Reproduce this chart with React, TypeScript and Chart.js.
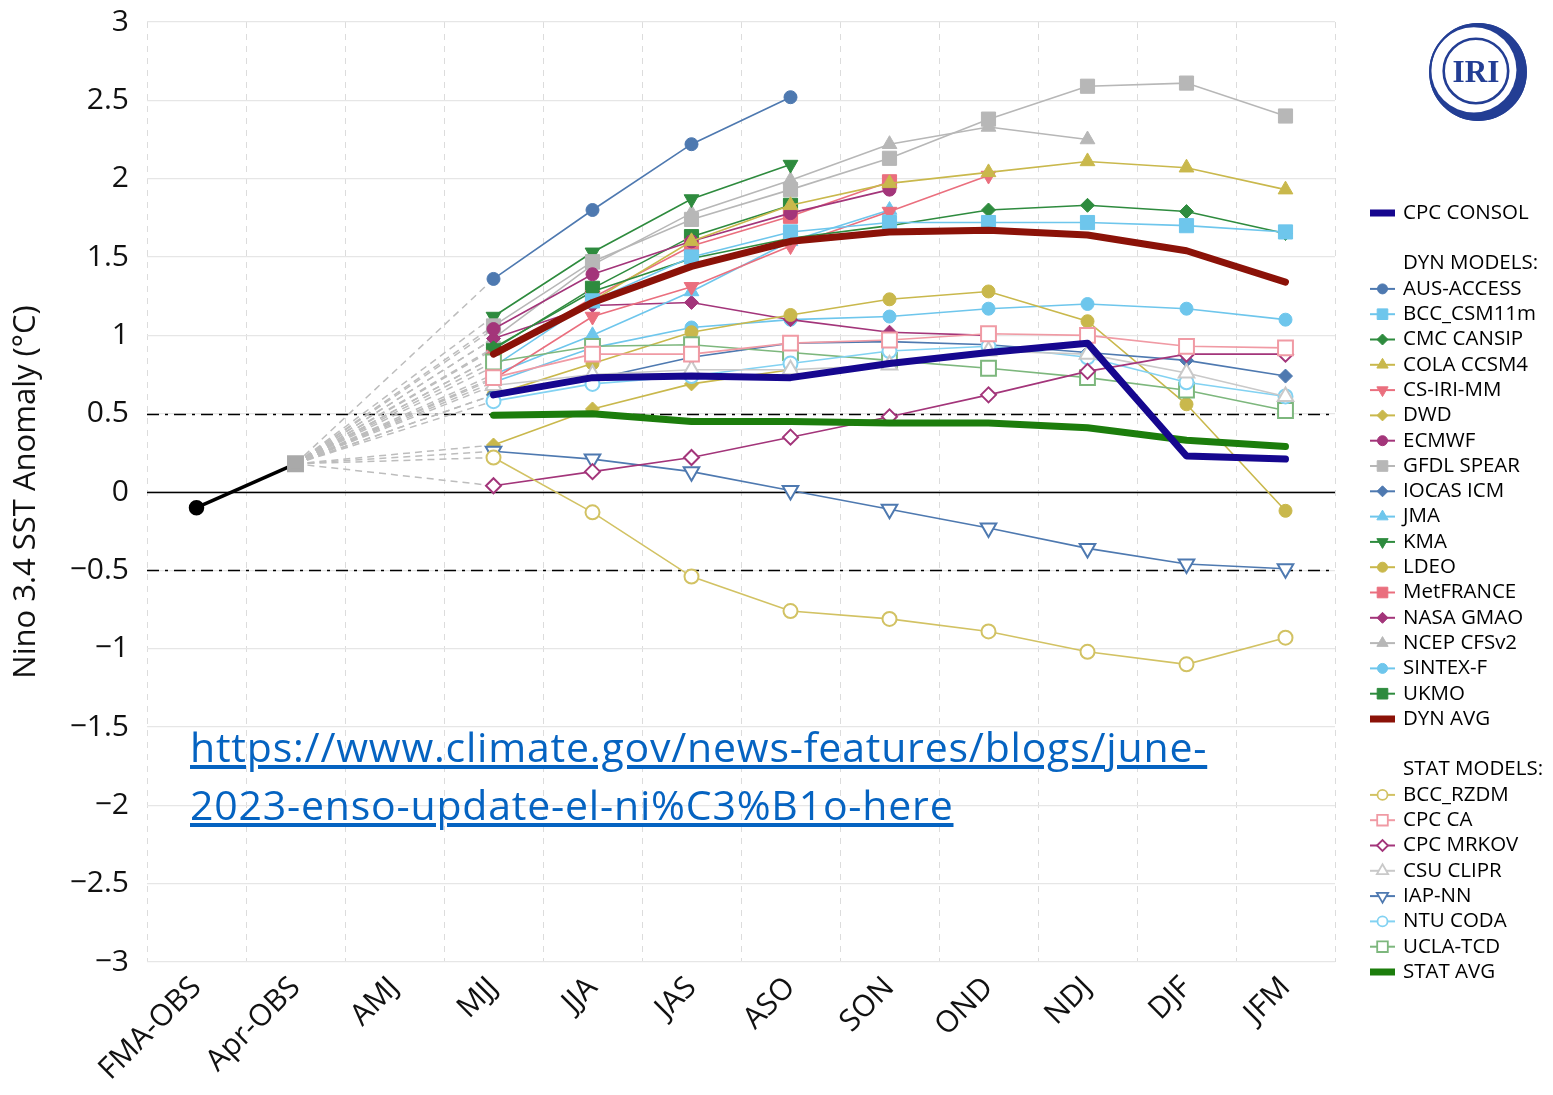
import React, { useEffect, useRef } from 'react';
import { Chart, registerables } from 'chart.js';
import { drawPoint } from 'chart.js/helpers';

Chart.register(...registerables);

// ---------------- DATA ----------------
const CATEGORIES = ['FMA-OBS', 'Apr-OBS', 'AMJ', 'MJJ', 'JJA', 'JAS', 'ASO', 'SON', 'OND', 'NDJ', 'DJF', 'JFM'];
const Y_TICKS_MIN = -3;
const Y_TICKS_MAX = 3;
const Y_STEP = 0.5;
const THRESHOLDS = [0.5, -0.5];
const ZERO_LINE = 0;

const OBS_FMA = -0.1;
const OBS_APR = 0.18;

// forecast values for MJJ, JJA, JAS, ASO, SON, OND, NDJ, DJF, JFM
const CPC_CONSOL = [0.62, 0.73, 0.74, 0.73, 0.82, 0.89, 0.95, 0.23, 0.21];

const AUS_ACCESS = [1.36, 1.8, 2.22, 2.52, null, null, null, null, null];
const BCC_CSM11M = [0.8, 1.22, 1.5, 1.66, 1.72, 1.72, 1.72, 1.7, 1.66];
const CMC_CANSIP = [0.92, 1.28, 1.49, 1.62, 1.7, 1.8, 1.83, 1.79, 1.65];
const COLA_CCSM4 = [0.86, 1.22, 1.6, 1.83, 1.97, 2.04, 2.11, 2.07, 1.93];
const CS_IRI_MM = [0.72, 1.12, 1.31, 1.57, 1.79, 2.02, null, null, null];
const DWD = [0.3, 0.53, 0.69, 0.78, null, null, null, null, null];
const ECMWF = [1.04, 1.39, 1.6, 1.78, 1.93, null, null, null, null];
const GFDL_SPEAR = [1.06, 1.47, 1.74, 1.93, 2.13, 2.38, 2.59, 2.61, 2.4];
const IOCAS_ICM = [0.62, 0.72, 0.86, 0.95, 0.96, 0.94, 0.89, 0.84, 0.74];
const JMA = [0.75, 1.0, 1.28, 1.6, 1.8, null, null, null, null];
const KMA = [1.12, 1.53, 1.87, 2.09, null, null, null, null, null];
const LDEO = [0.62, 0.82, 1.02, 1.13, 1.23, 1.28, 1.09, 0.56, -0.12];
const MET_FRANCE = [0.86, 1.24, 1.57, 1.76, 1.98, null, null, null, null];
const NASA_GMAO = [0.98, 1.19, 1.21, 1.1, 1.02, 1.0, null, null, null];
const NCEP_CFSV2 = [0.98, 1.45, 1.78, 1.99, 2.22, 2.33, 2.25, null, null];
const SINTEX_F = [0.7, 0.92, 1.05, 1.1, 1.12, 1.17, 1.2, 1.17, 1.1];
const UKMO = [0.91, 1.3, 1.63, 1.83, null, null, null, null, null];
const DYN_AVG = [0.88, 1.21, 1.44, 1.6, 1.66, 1.67, 1.64, 1.54, 1.34];

const BCC_RZDM = [0.22, -0.13, -0.54, -0.76, -0.81, -0.89, -1.02, -1.1, -0.93];
const CPC_CA = [0.73, 0.88, 0.88, 0.95, 0.97, 1.01, 1.0, 0.93, 0.92];
const CPC_MRKOV = [0.04, 0.13, 0.22, 0.35, 0.48, 0.62, 0.77, 0.88, 0.88];
const CSU_CLIPR = [0.68, 0.75, 0.78, 0.78, 0.81, 0.9, 0.88, 0.76, 0.61];
const IAP_NN = [0.26, 0.21, 0.13, 0.01, -0.11, -0.23, -0.36, -0.46, -0.49];
const NTU_CODA = [0.58, 0.69, 0.74, 0.82, 0.9, 0.93, 0.86, 0.7, 0.61];
const UCLA_TCD = [0.83, 0.93, 0.94, 0.89, 0.84, 0.79, 0.73, 0.65, 0.52];
const STAT_AVG = [0.49, 0.5, 0.45, 0.45, 0.44, 0.44, 0.41, 0.33, 0.29];

const LINK = 'https://www.climate.gov/news-features/blogs/june-2023-enso-update-el-ni%C3%B1o-here';
const LINK_LINE1 = 'https://www.climate.gov/news-features/blogs/june-';
const LINK_LINE2 = '2023-enso-update-el-ni%C3%B1o-here';

// ---------------- STYLES ----------------
type Marker = { style: string; rot?: number; r: number; lr: number; hollow?: boolean };
const CIRCLE: Marker = { style: 'circle', r: 6.5, lr: 5 };
const SQUARE: Marker = { style: 'rect', r: 10, lr: 7.5 };
const DIAMOND: Marker = { style: 'rectRot', r: 7, lr: 5.5 };
const TRI_UP: Marker = { style: 'triangle', r: 8.5, lr: 6.5 };
const TRI_DOWN: Marker = { style: 'triangle', rot: 180, r: 8.5, lr: 6.5 };
const hollow = (m: Marker): Marker => ({ ...m, hollow: true, r: m.r + 0.5 });

type Series = { name: string; values: (number | null)[]; color: string; marker?: Marker; thick?: boolean };

const BLUE = '#4e79b0';
const LBLUE = '#6ec6ec';
const GREEN = '#2e8b3e';
const OLIVE = '#c9b84c';
const PINK = '#ea6f7e';
const PURPLE = '#a3357a';
const GRAY = '#b7b7b7';

const CONSOL: Series = { name: 'CPC CONSOL', values: CPC_CONSOL, color: '#16078f', thick: true };
const DYN: Series[] = [
  { name: 'AUS-ACCESS', values: AUS_ACCESS, color: BLUE, marker: CIRCLE },
  { name: 'BCC_CSM11m', values: BCC_CSM11M, color: LBLUE, marker: SQUARE },
  { name: 'CMC CANSIP', values: CMC_CANSIP, color: GREEN, marker: DIAMOND },
  { name: 'COLA CCSM4', values: COLA_CCSM4, color: OLIVE, marker: TRI_UP },
  { name: 'CS-IRI-MM', values: CS_IRI_MM, color: PINK, marker: TRI_DOWN },
  { name: 'DWD', values: DWD, color: OLIVE, marker: DIAMOND },
  { name: 'ECMWF', values: ECMWF, color: PURPLE, marker: CIRCLE },
  { name: 'GFDL SPEAR', values: GFDL_SPEAR, color: GRAY, marker: SQUARE },
  { name: 'IOCAS ICM', values: IOCAS_ICM, color: BLUE, marker: DIAMOND },
  { name: 'JMA', values: JMA, color: LBLUE, marker: TRI_UP },
  { name: 'KMA', values: KMA, color: GREEN, marker: TRI_DOWN },
  { name: 'LDEO', values: LDEO, color: OLIVE, marker: CIRCLE },
  { name: 'MetFRANCE', values: MET_FRANCE, color: PINK, marker: SQUARE },
  { name: 'NASA GMAO', values: NASA_GMAO, color: PURPLE, marker: DIAMOND },
  { name: 'NCEP CFSv2', values: NCEP_CFSV2, color: GRAY, marker: TRI_UP },
  { name: 'SINTEX-F', values: SINTEX_F, color: LBLUE, marker: CIRCLE },
  { name: 'UKMO', values: UKMO, color: GREEN, marker: SQUARE },
];
const DYNAVG: Series = { name: 'DYN AVG', values: DYN_AVG, color: '#8b1208', thick: true };
const STAT: Series[] = [
  { name: 'BCC_RZDM', values: BCC_RZDM, color: '#d2c263', marker: hollow(CIRCLE) },
  { name: 'CPC CA', values: CPC_CA, color: '#f09aa4', marker: hollow(SQUARE) },
  { name: 'CPC MRKOV', values: CPC_MRKOV, color: PURPLE, marker: hollow(DIAMOND) },
  { name: 'CSU CLIPR', values: CSU_CLIPR, color: '#c9c9c9', marker: hollow(TRI_UP) },
  { name: 'IAP-NN', values: IAP_NN, color: BLUE, marker: hollow(TRI_DOWN) },
  { name: 'NTU CODA', values: NTU_CODA, color: '#82d2f2', marker: hollow(CIRCLE) },
  { name: 'UCLA-TCD', values: UCLA_TCD, color: '#7db77d', marker: hollow(SQUARE) },
];
const STATAVG: Series = { name: 'STAT AVG', values: STAT_AVG, color: '#1c7d0c', thick: true };

const FONT = '"Open Sans", "Noto Sans", sans-serif';

const fmt = (v: number) => (v < 0 ? '\u2212' + String(Math.abs(v)) : String(v));

function buildDataset(s: Series, order: number) {
  if (s.thick) {
    return {
      label: s.name,
      data: [null, null, null, ...s.values],
      borderColor: s.color,
      backgroundColor: s.color,
      borderWidth: 7,
      borderCapStyle: 'round',
      borderJoinStyle: 'round',
      pointRadius: 0,
      spanGaps: false,
      tension: 0,
      order,
    };
  }
  const m = s.marker as Marker;
  return {
    label: s.name,
    data: [null, OBS_APR, null, ...s.values],
    borderColor: s.color,
    backgroundColor: m.hollow ? '#ffffff' : s.color,
    pointBackgroundColor: m.hollow ? '#ffffff' : s.color,
    pointBorderColor: s.color,
    pointBorderWidth: m.hollow ? 2 : 1,
    borderWidth: 1.6,
    pointStyle: m.style,
    pointRotation: m.rot || 0,
    pointRadius: (ctx: any) => (ctx.dataIndex < 3 ? 0 : m.r),
    pointHoverRadius: (ctx: any) => (ctx.dataIndex < 3 ? 0 : m.r),
    spanGaps: true,
    tension: 0,
    segment: {
      borderColor: (ctx: any) => (ctx.p1DataIndex <= 3 ? '#bdbdbd' : undefined),
      borderDash: (ctx: any) => (ctx.p1DataIndex <= 3 ? [7, 5] : undefined),
      borderWidth: (ctx: any) => (ctx.p1DataIndex <= 3 ? 1.5 : undefined),
    },
    order,
  };
}

const refLinesPlugin = {
  id: 'refLines',
  beforeDatasetsDraw(chart: any) {
    const { ctx, chartArea, scales } = chart;
    const y = scales.y;
    ctx.save();
    ctx.strokeStyle = '#000';
    ctx.lineWidth = 1.5;
    const y0 = Math.round(y.getPixelForValue(ZERO_LINE)) + 0.5;
    ctx.beginPath();
    ctx.moveTo(chartArea.left, y0);
    ctx.lineTo(chartArea.right, y0);
    ctx.stroke();
    ctx.setLineDash([12, 6, 3, 6]);
    ctx.lineWidth = 1.5;
    THRESHOLDS.forEach((v) => {
      const py = Math.round(y.getPixelForValue(v)) + 0.5;
      ctx.beginPath();
      ctx.moveTo(chartArea.left, py);
      ctx.lineTo(chartArea.right, py);
      ctx.stroke();
    });
    ctx.restore();
  },
};

type LegendEntry = { kind: 'thick' | 'marker' | 'header' | 'blank'; s?: Series; text?: string };
const LEGEND: LegendEntry[] = [
  { kind: 'thick', s: CONSOL },
  { kind: 'blank' },
  { kind: 'header', text: 'DYN MODELS:' },
  ...DYN.map((s) => ({ kind: 'marker' as const, s })),
  { kind: 'thick', s: DYNAVG },
  { kind: 'blank' },
  { kind: 'header', text: 'STAT MODELS:' },
  ...STAT.map((s) => ({ kind: 'marker' as const, s })),
  { kind: 'thick', s: STATAVG },
];

const legendPlugin = {
  id: 'customLegend',
  afterDraw(chart: any) {
    const { ctx, chartArea } = chart;
    const x0 = chartArea.right + 35;
    const y0 = 213;
    const dy = 25.3;
    ctx.save();
    ctx.font = `20.5px ${FONT}`;
    ctx.textBaseline = 'middle';
    ctx.textAlign = 'left';
    LEGEND.forEach((e, i) => {
      const y = y0 + i * dy;
      if (e.kind === 'blank') return;
      if (e.kind === 'header') {
        ctx.fillStyle = '#000';
        ctx.fillText(e.text, x0 + 33, y);
        return;
      }
      const s = e.s as Series;
      if (e.kind === 'thick') {
        ctx.fillStyle = s.color;
        ctx.fillRect(x0, y - 3.5, 25, 7);
      } else {
        const m = s.marker as Marker;
        ctx.strokeStyle = s.color;
        ctx.lineWidth = 2;
        ctx.setLineDash([]);
        ctx.beginPath();
        ctx.moveTo(x0, y);
        ctx.lineTo(x0 + 25, y);
        ctx.stroke();
        ctx.fillStyle = m.hollow ? '#ffffff' : s.color;
        ctx.strokeStyle = s.color;
        ctx.lineWidth = m.hollow ? 1.8 : 1;
        drawPoint(ctx, { pointStyle: m.style, rotation: m.rot || 0, radius: m.lr, borderWidth: m.hollow ? 1.8 : 1 } as any, x0 + 12.5, y);
      }
      ctx.fillStyle = '#000';
      ctx.fillText(s.name, x0 + 33, y);
    });
    ctx.restore();
  },
};

function IriLogo() {
  return (
    <svg width={104} height={104} viewBox="0 0 100 100" style={{ position: 'absolute', left: 1426, top: 20 }}>
      <defs>
        <mask id="cres">
          <rect x="0" y="0" width="100" height="100" fill="white" />
          <circle cx="46" cy="48" r="41" fill="black" />
        </mask>
      </defs>
      <circle cx="50" cy="50" r="47" fill="#233e94" mask="url(#cres)" />
      <circle cx="50" cy="50" r="46" fill="none" stroke="#233e94" strokeWidth="2" />
      <circle cx="48" cy="49" r="31" fill="none" stroke="#233e94" strokeWidth="2.5" />
      <text x="48" y="60" textAnchor="middle" fontFamily='"Liberation Serif", "DejaVu Serif", serif' fontWeight="bold" fontSize="30" fill="#233e94">IRI</text>
    </svg>
  );
}

export default function App() {
  const canvasRef = useRef<HTMLCanvasElement | null>(null);

  useEffect(() => {
    const canvas = canvasRef.current;
    if (!canvas) return;

    const datasets: any[] = [];
    datasets.push({
      label: 'OBS',
      data: [OBS_FMA, OBS_APR, null, null, null, null, null, null, null, null, null, null],
      borderColor: '#000',
      borderWidth: 3.5,
      pointStyle: ['circle', 'rect'],
      pointBackgroundColor: ['#000', '#a9a9a9'],
      pointBorderColor: ['#000', '#a9a9a9'],
      pointRadius: [6, 9.5],
      order: 0,
    });
    datasets.push(buildDataset(CONSOL, 1));
    datasets.push(buildDataset(DYNAVG, 2));
    datasets.push(buildDataset(STATAVG, 3));
    STAT.forEach((s, i) => datasets.push(buildDataset(s, 10 + i)));
    DYN.forEach((s, i) => datasets.push(buildDataset(s, 30 + i)));

    const chart = new Chart(canvas, {
      type: 'line',
      data: { labels: CATEGORIES, datasets },
      options: {
        animation: false,
        responsive: true,
        maintainAspectRatio: false,
        devicePixelRatio: 1,
        layout: { padding: { top: 22, right: 218, bottom: 0, left: 0 } },
        plugins: {
          legend: { display: false },
          tooltip: { enabled: false },
        },
        scales: {
          x: {
            type: 'category',
            offset: true,
            grid: { offset: true, color: '#dcdcdc', lineWidth: 1, drawTicks: false },
            border: { display: false, dash: [6, 6] },
            ticks: {
              color: '#111',
              font: { family: FONT, size: 30 },
              maxRotation: 45,
              minRotation: 45,
              padding: 8,
              autoSkip: false,
            },
            afterFit: (s: any) => {
              s.height = 133;
            },
          },
          y: {
            min: Y_TICKS_MIN,
            max: Y_TICKS_MAX,
            grid: { color: '#e6e6e6', lineWidth: 1.2, drawTicks: false },
            border: { display: false },
            ticks: {
              stepSize: Y_STEP,
              color: '#111',
              font: { family: FONT, size: 30 },
              padding: 18,
              callback: (v: any) => fmt(Number(v)),
            },
            title: {
              display: true,
              text: 'Nino 3.4 SST Anomaly (°C)',
              color: '#111',
              font: { family: FONT, size: 31 },
              padding: { top: 8, bottom: 4 },
            },
            afterFit: (s: any) => {
              s.width = 147;
              s.paddingTop = 0;
              s.paddingBottom = 0;
            },
          },
        },
      } as any,
      plugins: [refLinesPlugin, legendPlugin],
    });

    return () => chart.destroy();
  }, []);

  return (
    <div style={{ position: 'absolute', left: 0, top: 0, width: 1553, height: 1095, background: '#fff', overflow: 'hidden' }}>
      <canvas ref={canvasRef} style={{ width: '100%', height: '100%' }} />
      <IriLogo />
      <a
        href={LINK}
        style={{
          position: 'absolute',
          left: 190,
          top: 717,
          color: '#0563c1',
          textDecoration: 'underline',
          fontFamily: FONT,
          fontSize: 41,
          letterSpacing: '0.8px',
          lineHeight: '58px',
          whiteSpace: 'nowrap',
        }}
      >
        {LINK_LINE1}
        <br />
        {LINK_LINE2}
      </a>
    </div>
  );
}
